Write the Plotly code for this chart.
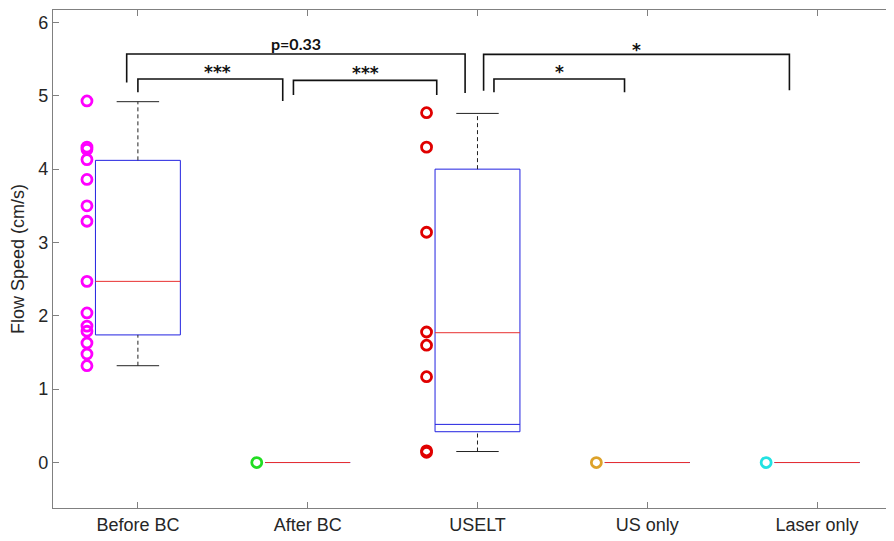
import plotly.graph_objects as go

# ---------------- data ----------------
categories = ["Before BC", "After BC", "USELT", "US only", "Laser only"]

before_bc = [4.93, 4.30, 4.27, 4.13, 3.86, 3.50, 3.29, 2.47, 2.04, 1.86, 1.79, 1.63, 1.48, 1.32]
after_bc = [0.0]
uselt = [4.77, 4.30, 3.14, 1.78, 1.60, 1.17, 0.16, 0.14]
us_only = [0.0]
laser_only = [0.0]
group_values = [before_bc, after_bc, uselt, us_only, laser_only]

# box statistics
box_q1 = [1.74, 0.0, 0.42, 0.0, 0.0]
box_q1_inner = [None, None, 0.52, None, None]
box_median = [2.47, 0.0, 1.77, 0.0, 0.0]
box_q3 = [4.12, 0.0, 4.00, 0.0, 0.0]
whisker_low = [1.32, 0.0, 0.15, 0.0, 0.0]
whisker_high = [4.92, 0.0, 4.76, 0.0, 0.0]

# significance comparisons: (group a, group b, label)
comparisons = [
    ("Before BC", "USELT", "p=0.33"),
    ("Before BC", "After BC", "***"),
    ("After BC", "USELT", "***"),
    ("USELT", "Laser only", "*"),
    ("USELT", "US only", "*"),
]

# ---------------- styling / geometry ----------------
point_colors = ["#FF00FF", "#22DD22", "#E00000", "#DDA22A", "#22E2E2"]
half_box = 0.25
half_cap = 0.125
point_offset = -0.30

# bracket geometry (x_left, x_right, y_top, y_left_end, y_right_end, label_y)
bracket_geom = [
    (0.934, 2.927, 5.57, 5.18, 5.04, 5.72),
    (1.000, 1.853, 5.23, 5.05, 4.93, 5.32),
    (1.916, 2.760, 5.21, 5.01, 5.01, 5.31),
    (3.036, 4.837, 5.565, 5.07, 5.075, 5.63),
    (3.097, 3.866, 5.23, 5.05, 5.05, 5.32),
]
label_x_shift = [0.0, 0.04, 0.0, 0.0, 0.0]

fig = go.Figure()

pos = list(range(1, len(categories) + 1))

# boxes
bx, by = [], []
for c, a, b in zip(pos, box_q1, box_q3):
    bx += [c - half_box, c + half_box, c + half_box, c - half_box, c - half_box, None]
    by += [a, a, b, b, a, None]
for c, a in zip(pos, box_q1_inner):
    if a is not None:
        bx += [c - half_box, c + half_box, None]
        by += [a, a, None]
fig.add_trace(go.Scatter(x=bx, y=by, mode="lines", line=dict(color="#2020E0", width=1),
                         hoverinfo="skip", showlegend=False))

# whiskers (dashed) and caps
wx, wy, cx, cy = [], [], [], []
for c, lo, a, b, hi in zip(pos, whisker_low, box_q1, box_q3, whisker_high):
    if hi > b:
        wx += [c, c, None]; wy += [b, hi, None]
        cx += [c - half_cap, c + half_cap, None]; cy += [hi, hi, None]
    if lo < a:
        wx += [c, c, None]; wy += [lo, a, None]
        cx += [c - half_cap, c + half_cap, None]; cy += [lo, lo, None]
fig.add_trace(go.Scatter(x=wx, y=wy, mode="lines", line=dict(color="#222222", width=1, dash="4px,3px"),
                         hoverinfo="skip", showlegend=False))
fig.add_trace(go.Scatter(x=cx, y=cy, mode="lines", line=dict(color="#222222", width=1),
                         hoverinfo="skip", showlegend=False))

# medians
mx, my = [], []
for c, m in zip(pos, box_median):
    mx += [c - half_box, c + half_box, None]
    my += [m, m, None]
fig.add_trace(go.Scatter(x=mx, y=my, mode="lines", line=dict(color="#E83030", width=1),
                         hoverinfo="skip", showlegend=False))

# individual points
for c, vals, col in zip(pos, group_values, point_colors):
    fig.add_trace(go.Scatter(
        x=[c + point_offset] * len(vals), y=vals, mode="markers",
        marker=dict(symbol="circle-open", size=10, color=col, line=dict(width=2.8, color=col)),
        showlegend=False))

# significance brackets
for (ga, gb, lab), (xl, xr, yt, yle, yre, ly), dx in zip(comparisons, bracket_geom, label_x_shift):
    fig.add_trace(go.Scatter(x=[xl, xl, xr, xr], y=[yle, yt, yt, yre], mode="lines",
                             line=dict(color="#111111", width=1.6), hoverinfo="skip", showlegend=False))
    if lab.startswith("p"):
        fnt = dict(family="Lato, 'Open Sans', sans-serif", size=16, color="#111111")
    else:
        fnt = dict(family="DejaVu Sans, sans-serif", size=17, color="#111111")
    fig.add_annotation(x=(xl + xr) / 2 + dx, y=ly, text="<b>" + lab + "</b>", showarrow=False, font=fnt)

axis_color = "#808080"
fig.update_layout(
    width=886, height=533,
    margin=dict(l=45, r=0, t=2, b=33),
    paper_bgcolor="white", plot_bgcolor="white",
    font=dict(family="Liberation Sans, Arial, sans-serif", size=17, color="#262626"),
    xaxis=dict(range=[0.5, 5.453], tickmode="array", tickvals=pos, ticktext=categories,
               showline=True, linecolor=axis_color, linewidth=1.2, mirror="ticks",
               ticks="inside", ticklen=6, tickcolor=axis_color, showgrid=False, zeroline=False,
               automargin=False, tickfont=dict(size=18, color="#262626")),
    yaxis=dict(range=[-0.62, 6.17], tickmode="array", tickvals=[0, 1, 2, 3, 4, 5, 6],
               showline=True, linecolor=axis_color, linewidth=1.2, mirror=False,
               ticks="inside", ticklen=6, tickcolor=axis_color, showgrid=False, zeroline=False,
               automargin=False, tickfont=dict(size=18, color="#262626"),
               title=dict(text="Flow Speed (cm/s)", font=dict(size=18, color="#262626"), standoff=8)),
)

fig.write_html("out.html")
